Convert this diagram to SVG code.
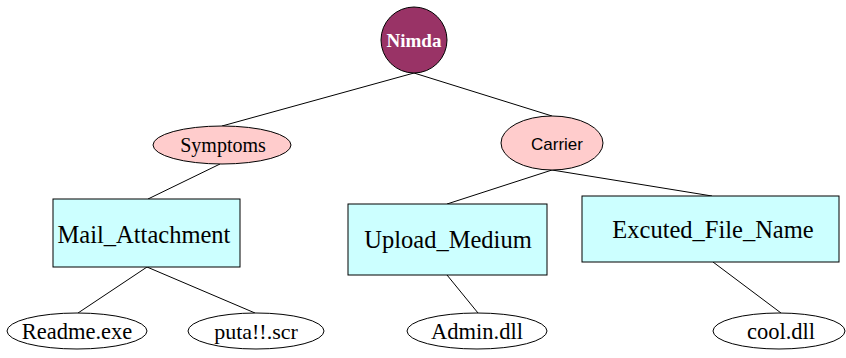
<svg xmlns="http://www.w3.org/2000/svg" width="846" height="358" viewBox="0 0 846 358">
<style>
.ln{stroke:#000;stroke-width:1;fill:none}
.box{fill:#ccffff;stroke:#000;stroke-width:1}
.pink{fill:#ffcccc;stroke:#000;stroke-width:1}
.leaf{fill:#fff;stroke:#000;stroke-width:1}
text{text-anchor:middle;fill:#000}
.sf{font-family:'Liberation Serif','Times New Roman',Times,'DejaVu Serif',serif}
.sn{font-family:'Liberation Sans',Arial,sans-serif}
.big{font-size:24.5px}
.leafT{font-size:22.5px}
</style>
<rect width="846" height="358" fill="#fff"/>
<g id="connectors">
<line class="ln" x1="414" y1="73" x2="222" y2="126"/>
<line class="ln" x1="414" y1="73" x2="552" y2="116"/>
<line class="ln" x1="220" y1="164" x2="148" y2="199"/>
<line class="ln" x1="552" y1="170" x2="447" y2="204"/>
<line class="ln" x1="552" y1="170" x2="712" y2="196"/>
<line class="ln" x1="147" y1="267" x2="78" y2="313"/>
<line class="ln" x1="147" y1="267" x2="255" y2="313"/>
<line class="ln" x1="447" y1="275" x2="478" y2="313"/>
<line class="ln" x1="713" y1="262" x2="781" y2="313"/>
</g>
<g id="nimda">
<circle cx="414" cy="40" r="33" fill="#993366" stroke="#000"/>
<text class="sf" x="414" y="47" font-size="19" font-weight="bold" style="fill:#fff">Nimda</text>
</g>
<g id="symptoms">
<ellipse class="pink" cx="222" cy="145" rx="69" ry="19"/>
<text class="sf" x="223" y="152" font-size="20">Symptoms</text>
</g>
<g id="carrier">
<ellipse class="pink" cx="552" cy="143" rx="51" ry="27"/>
<text class="sn" x="557" y="150" font-size="17">Carrier</text>
</g>
<g id="mail_attachment">
<rect class="box" x="53" y="199" width="187" height="68"/>
<text class="sf big" x="144" y="243">Mail_Attachment</text>
</g>
<g id="upload_medium">
<rect class="box" x="348" y="204" width="199" height="71"/>
<text class="sf big" x="448" y="248">Upload_Medium</text>
</g>
<g id="excuted_file_name">
<rect class="box" x="582" y="196" width="257" height="66"/>
<text class="sf big" x="713" y="238">Excuted_File_Name</text>
</g>
<g id="readme">
<ellipse class="leaf" cx="77" cy="331" rx="70" ry="18"/>
<text class="sf leafT" x="77" y="339">Readme.exe</text>
</g>
<g id="puta">
<ellipse class="leaf" cx="256" cy="331" rx="68" ry="18"/>
<text class="sf" x="256" y="339" font-size="22">puta!!.scr</text>
</g>
<g id="admin">
<ellipse class="leaf" cx="477" cy="331" rx="70" ry="18"/>
<text class="sf leafT" x="477" y="339">Admin.dll</text>
</g>
<g id="cool">
<ellipse class="leaf" cx="779" cy="331" rx="66" ry="18"/>
<text class="sf leafT" x="781" y="339">cool.dll</text>
</g>
</svg>
